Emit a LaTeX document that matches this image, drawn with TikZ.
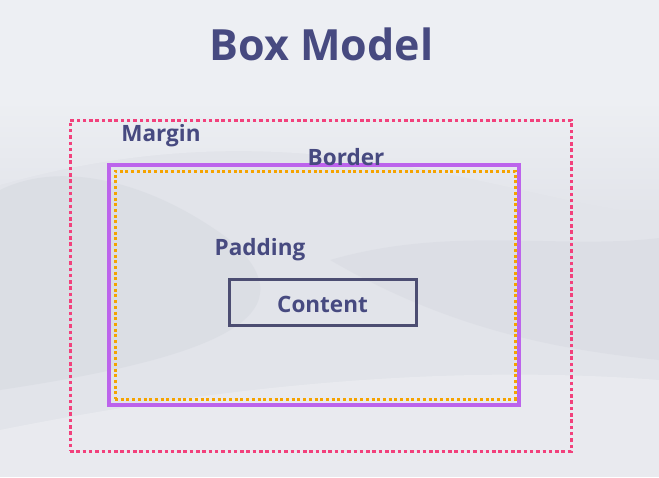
\documentclass[tikz,border=0pt]{standalone}
\usepackage{fontspec}
\setmainfont{Open Sans}
\usetikzlibrary{fit}
\definecolor{bg}{HTML}{E2E4EA}
\definecolor{bglight}{HTML}{EDEFF3}
\definecolor{bgshade}{HTML}{D0D3DB}
\definecolor{txt}{HTML}{474A80}
\definecolor{marginc}{HTML}{F2417C}
\definecolor{borderc}{HTML}{BC63EC}
\definecolor{paddingc}{HTML}{F5A300}
\definecolor{contentc}{HTML}{4C4D72}
\tikzset{
  boxbase/.style={rectangle, inner sep=0pt, outer sep=0pt, anchor=north west},
  marginbox/.style={boxbase, draw=marginc, line width=3pt, dash pattern=on 3.5pt off 2.8pt},
  borderbox/.style={boxbase, draw=borderc, line width=4pt},
  paddingbox/.style={boxbase, draw=paddingc, line width=3pt, dash pattern=on 3pt off 2.7pt},
  contentbox/.style={boxbase, draw=contentc, line width=3pt},
  lbl/.style={text=txt, font=\fontsize{22.5}{26}\selectfont\bfseries, inner sep=0pt},
  ttl/.style={text=txt, font=\fontsize{43}{50}\selectfont\bfseries, inner sep=0pt},
}
\begin{document}
\begin{tikzpicture}[x=1pt,y=-1pt]
\useasboundingbox (0,0) rectangle (659,477);
% background snow
\fill[bg] (0,0) rectangle (659,477);
\fill[bglight] (0,0) rectangle (659,150);
\shade[top color=bglight, bottom color=bg] (0,100) -- (659,100) -- (659,215) .. controls (500,200) and (300,100) .. (0,185) -- cycle;
\fill[bgshade, opacity=0.35] (0,190) .. controls (60,160) and (150,180) .. (230,240) .. controls (320,320) and (200,360) .. (0,390) -- cycle;
\fill[bgshade, opacity=0.3] (330,260) .. controls (450,225) and (560,250) .. (659,238) -- (659,360) .. controls (560,350) and (450,330) .. (330,260) -- cycle;
\fill[white, opacity=0.25] (0,430) .. controls (150,400) and (400,360) .. (659,380) -- (659,477) -- (0,477) -- cycle;
% title
\node[ttl] (title) at (321.5,44.5) {Box Model};
% boxes
\node[marginbox, minimum width=501pt, minimum height=331pt] (margin) at (70,120) {};
\node[borderbox, minimum width=410pt, minimum height=240pt] (border) at (109,165) {};
\node[paddingbox, minimum width=400pt, minimum height=228pt] (padding) at (115,171) {};
\node[contentbox, minimum width=187pt, minimum height=46pt] (content) at (229,279) {};
% labels
\node[lbl] (marginlbl) at (161,135.5) {Margin};
\node[lbl] (borderlbl) at (346,157) {Border};
\node[lbl] (paddinglbl) at (260,249.5) {Padding};
\node[lbl, yshift=-2pt] (contentlbl) at (content.center) {Content};
\end{tikzpicture}
\end{document}
